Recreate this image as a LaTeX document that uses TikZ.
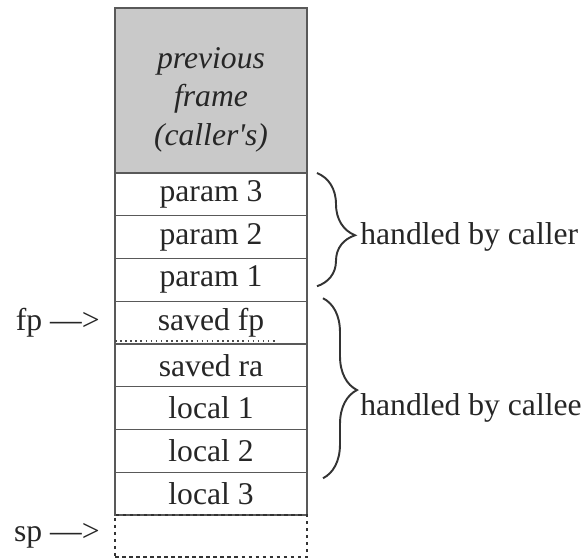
\documentclass[tikz,border=0pt]{standalone}
\usepackage{fontspec}
\setmainfont{Liberation Serif}
\usetikzlibrary{
	positioning,
	calc,
	decorations.pathreplacing
}

\begin{document}
\begin{tikzpicture}[
        node distance=0pt,
        slot/.style={rectangle, draw=gray!70!black, line width=0.8pt, minimum width=3.84cm, minimum height=0.855cm, inner sep=0pt, outer sep=0pt, text=black!85, font=\fontsize{18}{21}\selectfont},
        note/.style={inner sep=0pt, text=black!85, font=\fontsize{18}{21}\selectfont},
        curly/.style={decorate, line width=1.1pt, draw=black!80}
    ]
        \useasboundingbox (0,0) rectangle (11.68,-11.18);
        \node[slot, fill=gray!42, minimum height=3.3cm, font=\fontsize{18}{22}\selectfont\itshape] (prev) at (4.22,-1.81)
            {\raisebox{-0.17cm}[\height][\depth]{\begin{tabular}{@{}c@{}}previous\\frame\\(caller\textquotesingle s)\end{tabular}}};
        \node[slot, below=of prev] (p3) {param 3};
        \node[slot, below=of p3] (p2) {param 2};
        \node[slot, below=of p2] (p1) {param 1};
        \node[slot, below=of p1] (sfp) {saved fp};
        \node[slot, below=of sfp] (sra) {saved ra};
        \node[slot, below=of sra] (l1) {local 1};
        \node[slot, below=of l1] (l2) {local 2};
        \node[slot, below=of l2] (l3) {local 3};
        \node[slot, draw=black!80, line width=1.4pt, dash pattern=on 2pt off 2pt, below=of l3, minimum height=0.84cm] (free) {}; % empty slot below the top

        \draw[dotted, line width=0.9pt, gray!60!black] ($(sfp.south west)+(0,0.06)$) -- ++(3.24,0);

        \node[note, left=0.3cm of sfp] (fp) {fp --->};
        \node[note, left=0.3cm of free] (sp) {sp --->};

        \draw[curly, decoration={brace, amplitude=0.76cm, aspect=0.55}] ($(p3.north east)+(0.2,0)$) -- ($(p1.south east)+(0.2,0.3)$);
        \draw[curly, decoration={brace, amplitude=0.68cm, aspect=0.51}] ($(sfp.north east)+(0.32,0.06)$) -- ($(l3.north east)+(0.32,-0.12)$);

        \node[note, right=1.06cm of p2] (caller) {handled by caller};
        \node[note, right=1.06cm of l1] (callee) {handled by callee};
    \end{tikzpicture}
\end{document}
